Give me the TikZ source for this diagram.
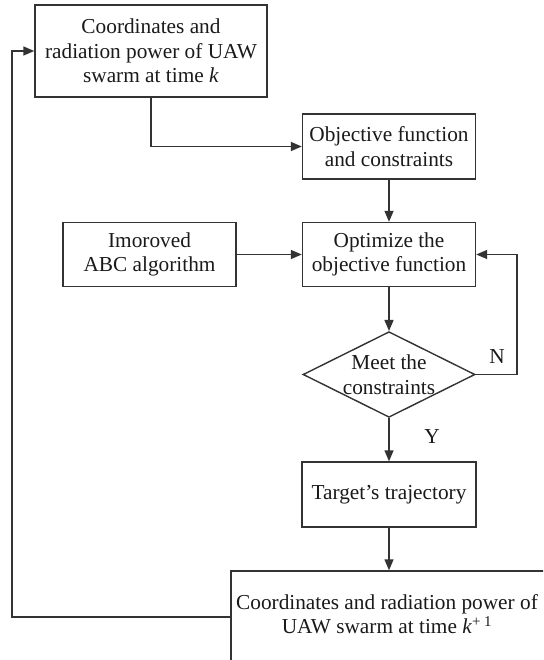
\documentclass[tikz,border=0pt]{standalone}
\usepackage{fontspec}
\setmainfont{Liberation Serif}
\usetikzlibrary{shapes.geometric,arrows.meta}
\definecolor{ln}{HTML}{333333}
\definecolor{tx}{HTML}{1A1A1A}
\begin{document}
\begin{tikzpicture}[x=1pt,y=-1pt,
  every node/.style={font=\fontsize{21.3}{24.5}\selectfont, text=tx},
  box/.style={draw=ln, line width=1.4pt, rectangle, align=center, inner sep=0pt},
  dia/.style={draw=ln, line width=1.4pt, diamond, aspect=2, align=center, inner sep=0pt},
  conn/.style={draw=ln, line width=1.4pt},
  arr/.style={conn, -{Triangle[length=11pt,width=9pt]}}]
\useasboundingbox (0,0) rectangle (543,660);
\clip (0,0) rectangle (543,660);
\fill[white] (0,0) rectangle (543,660);
\node[box, minimum width=232pt, minimum height=92pt] (b1) at (151,51) {Coordinates and\\radiation power of UAW\\swarm at time \textit{k}};
\node[box, minimum width=173pt, minimum height=65pt] (b2) at (389,146.5) {Objective function\\and constraints};
\node[box, minimum width=173pt, minimum height=64pt] (abc) at (149.5,254.5) {Imoroved\\ABC algorithm};
\node[box, minimum width=173pt, minimum height=64pt] (opt) at (389,254.5) {Optimize the\\objective function};
\node[dia, minimum width=172pt, minimum height=85pt] (dm) at (389,374.5) {Meet the\\constraints};
\node[box, minimum width=174pt, minimum height=65pt] (tgt) at (389,494.5) {Target's trajectory};
\node[box, minimum width=316pt, minimum height=92pt] (bot) at (389,617) {};
\node (bottxt) at (387,614) [align=center] {Coordinates and radiation power of\\UAW swarm at time \textit{k}\textsuperscript{+ 1}};
\node (nlab) at (497,357) {N};
\node (ylab) at (432,437) {Y};
\coordinate (nr) at (517,374.5);
\coordinate (lf) at (12,617);
\draw[arr] (b1.south) |- (b2.west);
\draw[arr] (b2.south) -- (opt.north);
\draw[arr] (abc.east) -- (opt.west);
\draw[arr] (opt.south) -- (dm.north);
\draw[arr] (dm.east) -- (nr) |- (opt.east);
\draw[arr] (dm.south) -- (tgt.north);
\draw[arr] (tgt.south) -- (tgt.south |- bot.north);
\draw[arr] (bot.west) -- (lf) |- (b1.west);
\end{tikzpicture}
\end{document}
